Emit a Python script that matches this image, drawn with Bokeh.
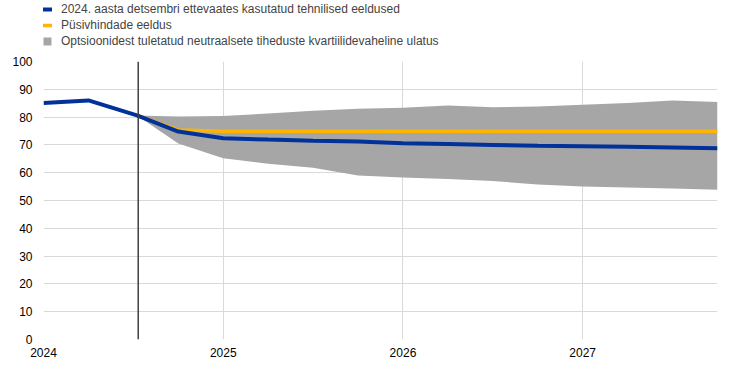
from bokeh.plotting import figure
from bokeh.layouts import column
from bokeh.models import ColumnDataSource, Span, Legend, LegendItem, FixedTicker
from bokeh.embed import file_html
from bokeh.resources import INLINE

# Data (fractional years)
x_all = [2024.0, 2024.25, 2024.52, 2024.75, 2025.0, 2025.25, 2025.5, 2025.75,
         2026.0, 2026.25, 2026.5, 2026.75, 2027.0, 2027.25, 2027.5, 2027.75]
blue = [85.1, 86.0, 80.6, 74.8, 72.4, 71.9, 71.5, 71.2,
        70.6, 70.3, 70.0, 69.7, 69.5, 69.3, 69.1, 68.8]
x_fwd = x_all[2:]
orange = [80.6, 75.4, 74.9, 74.9, 74.9, 74.9, 74.9, 74.9,
          74.9, 74.9, 74.9, 74.9, 74.9, 74.9]
upper = [80.6, 80.2, 80.4, 81.3, 82.3, 83.0, 83.4, 84.2,
         83.5, 83.8, 84.4, 85.1, 86.0, 85.4]
lower = [80.6, 70.5, 65.2, 63.2, 61.8, 59.0, 58.3, 57.7,
         57.0, 55.8, 55.0, 54.7, 54.3, 53.9]
cutoff = 2024.527
year_ticks = [2024, 2025, 2026, 2027]
y_ticks = list(range(0, 101, 10))
labels = ["2024. aasta detsembri ettevaates kasutatud tehnilised eeldused",
          "Püsivhindade eeldus",
          "Optsioonidest tuletatud neutraalsete tiheduste kvartiilidevaheline ulatus"]

FONT = "Liberation Sans"
BLUE, ORANGE, GREY = "#003299", "#FFB400", "#A6A6A6"

src_b = ColumnDataSource(dict(x=x_all, y=blue))
src_f = ColumnDataSource(dict(x=x_fwd, o=orange, u=upper, l=lower))

# ---- main chart ----
p = figure(width=741, height=313, output_backend="svg", toolbar_location=None,
           x_range=(2024.0, 2027.75), y_range=(0, 100),
           min_border_left=43, min_border_right=24, min_border_bottom=27, min_border_top=8)
p.outline_line_color = None

p.varea(x="x", y1="l", y2="u", source=src_f, fill_color=GREY)
p.line(x="x", y="o", source=src_f, line_color=ORANGE, line_width=3.5)
p.line(x="x", y="y", source=src_b, line_color=BLUE, line_width=4)

p.add_layout(Span(location=cutoff, dimension="height", line_color="#404040", line_width=1.5))

p.xaxis.ticker = FixedTicker(ticks=year_ticks)
p.xaxis.major_label_overrides = {t: str(t) for t in year_ticks}
p.yaxis.ticker = FixedTicker(ticks=y_ticks)
for ax in (p.xaxis[0], p.yaxis[0]):
    ax.axis_line_color = None
    ax.major_tick_line_color = None
    ax.minor_tick_line_color = None
    ax.major_label_text_font = FONT
    ax.major_label_text_font_size = "12px"
    ax.major_label_text_color = "#000000"
p.xaxis.major_label_standoff = 2
p.yaxis.major_label_standoff = 5

p.xgrid.ticker = FixedTicker(ticks=year_ticks)
p.ygrid.ticker = FixedTicker(ticks=y_ticks)
p.xgrid.grid_line_color = "#D9D9D9"
p.ygrid.grid_line_color = "#D9D9D9"

# ---- legend strip (same series, drawn outside its visible range) ----
lg = figure(width=741, height=53, output_backend="svg", toolbar_location=None,
            x_range=(2024.0, 2027.75), y_range=(0, 1), min_border=0,
            min_border_left=43, min_border_right=24)
lg.axis.visible = False
lg.grid.visible = False
lg.outline_line_color = None
r3 = lg.varea(x="x", y1="l", y2="u", source=src_f, fill_color=GREY)
r2 = lg.line(x="x", y="o", source=src_f, line_color=ORANGE, line_width=3.5)
r1 = lg.line(x="x", y="y", source=src_b, line_color=BLUE, line_width=4)

legend = Legend(items=[LegendItem(label=labels[0], renderers=[r1]),
                       LegendItem(label=labels[1], renderers=[r2]),
                       LegendItem(label=labels[2], renderers=[r3])],
                location=(-1, 5), orientation="vertical",
                glyph_width=10, glyph_height=10, label_height=15, spacing=1,
                padding=0, margin=0, label_standoff=9,
                label_text_font=FONT, label_text_font_size="12px",
                border_line_color=None, background_fill_alpha=0)
lg.add_layout(legend)

open("out.html", "w").write(file_html(column(lg, p), INLINE))
